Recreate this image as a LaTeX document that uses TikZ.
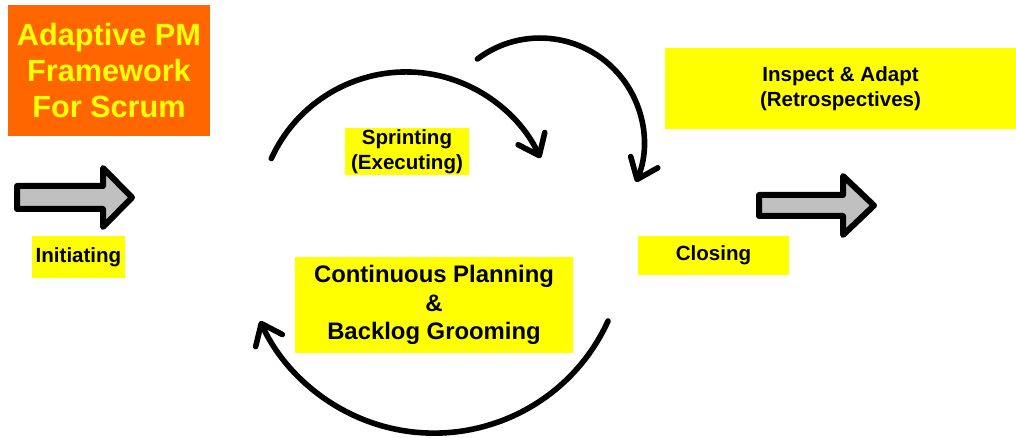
\documentclass[tikz,border=0pt]{standalone}
\usepackage{fontspec}
\setmainfont{Liberation Sans}
\usetikzlibrary{arrows.meta}
\definecolor{hiyellow}{HTML}{FFFF00}
\definecolor{titleorange}{HTML}{FF6600}
\definecolor{arrowgray}{HTML}{C0C0C0}
\begin{document}
\begin{tikzpicture}[x=0.75pt,y=-0.75pt,
  label box/.style={fill=hiyellow, inner sep=0pt, align=center,
    font=\bfseries\fontsize{15.4}{19}\selectfont},
  cycle arc/.style={line width=4.2pt, line cap=round,
    -{Straight Barb[length=14pt,width=22pt,round]}},
  block arrow/.style={draw=black, fill=arrowgray, line width=4.5pt, line join=round}]
\useasboundingbox (0,0) rectangle (1016,438);

% title block
\node[fill=titleorange, text=hiyellow, inner sep=0pt, align=center,
      minimum width=151.5pt, minimum height=98.25pt,
      font=\bfseries\fontsize{23}{27}\selectfont]
  (title) at (109,70.5) {Adaptive PM\\Framework\\For Scrum};

% phase labels
\node[label box, minimum width=69.75pt, minimum height=31.5pt] (init)
  at (78.5,257) {Initiating};
\node[label box, minimum width=93pt, minimum height=35.25pt] (sprint)
  at (407,151.5) {Sprinting\\(Executing)};
\node[label box, minimum width=208.5pt, minimum height=72pt,
      font=\bfseries\fontsize{17.9}{21.4}\selectfont] (plan)
  at (434,305) {Continuous Planning\\\&\\Backlog Grooming};
\node[label box, minimum width=113.25pt, minimum height=29.25pt] (closing)
  at (713.5,255.5) {Closing};
\node[label box, minimum width=263.25pt, minimum height=60.75pt] (inspect)
  at (840.5,88.5) {Inspect \& Adapt\\(Retrospectives)};

% entry and exit arrows
\draw[block arrow] (17,186) -- (103,186) -- (103,168) -- (132,197.5)
  -- (103,227) -- (103,209) -- (17,209) -- cycle;
\draw[block arrow] (759,195) -- (843,195) -- (843,176) -- (874,205.5)
  -- (843,235) -- (843,216) -- (759,216) -- cycle;

% the sprint cycle
\coordinate (sprint start) at (271.3,158.6);
\coordinate (review start) at (477.4,59);
\coordinate (plan start) at (608,321);
\draw[cycle arc] (sprint start) arc[start angle=155.5, end angle=24.7, radius=111pt];
\draw[cycle arc] (review start) arc[start angle=127, end angle=-22.6, radius=78pt];
\draw[cycle arc] (plan start) arc[start angle=-24.4, end angle=-155.6, radius=143.25pt];
\end{tikzpicture}
\end{document}
